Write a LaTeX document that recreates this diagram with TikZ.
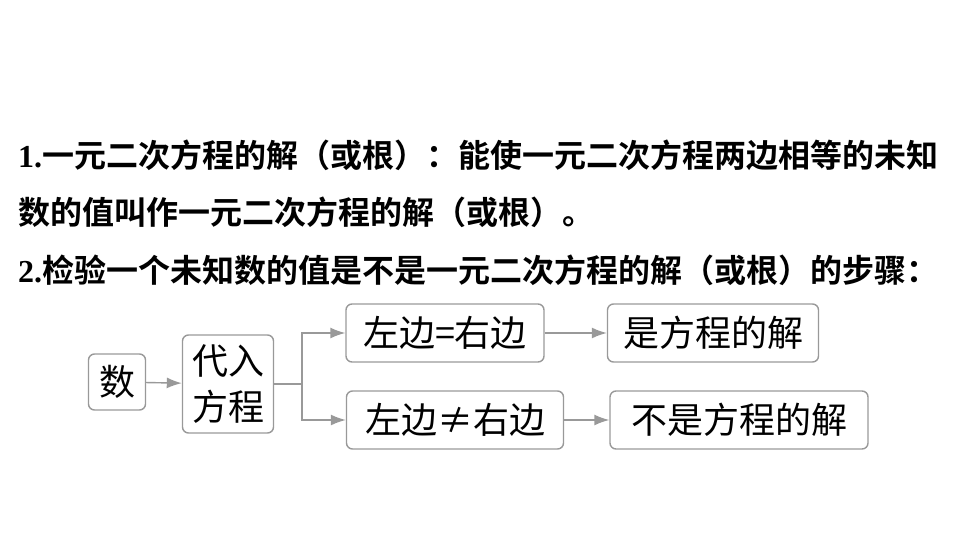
\documentclass[tikz,border=0pt]{standalone}
\usepackage{fontspec}
\setmainfont{Liberation Serif}
\newfontfamily\cjk{Noto Sans CJK SC}[BoldFont={Noto Sans CJK SC Bold}]
\usetikzlibrary{positioning, arrows.meta}
\tikzset
{%
box/.style={draw=gray!80, line width=1.4pt, rounded corners=6pt, inner sep=0pt, align=center, font=\cjk\fontsize{36}{40}\selectfont},
line/.style={draw=gray!80, line width=1.4pt},
arr/.style={line, -{Latex[length=15pt,width=11pt]}},
head/.style={anchor=west, inner sep=0pt, font=\bfseries\fontsize{32}{34}\selectfont}
}
\begin{document}
\begin{tikzpicture}[x=1pt,y=-1pt]
	\useasboundingbox (0,0) rectangle (960,540);
	\node[head] (t1) at (18,155) {1.{\cjk 一元二次方程的解（或根）：能使一元二次方程两边相等的未知}};
	\node[head] (t2) at (18,212) {\cjk 数的值叫作一元二次方程的解（或根）。};
	\node[head] (t3) at (18,270) {2.{\cjk 检验一个未知数的值是不是一元二次方程的解（或根）的步骤：}};

	\node[box, minimum width=57pt, minimum height=56pt] (shu) at (117,382) {数};
	\node[box, minimum width=91pt, minimum height=98pt, font=\cjk\fontsize{36}{46}\selectfont] (dai) at (228,384) {代入\\方程};
	\node[box, minimum width=198pt, minimum height=58pt] (eq) at (445,333) {左边=右边};
	\node[box, minimum width=211pt, minimum height=58pt] (yes) at (713,333) {是方程的解};
	\node[box, minimum width=217pt, minimum height=58pt] (neq) at (455,420) {左边≠右边};
	\node[box, minimum width=258pt, minimum height=58pt] (no) at (739,420) {不是方程的解};
	\coordinate (fork) at (302,384);

	\draw[arr] (shu) -- (dai);
	\draw[line] (dai.east) -- (fork);
	\draw[arr] (fork) |- (eq.west);
	\draw[arr] (fork) |- (neq.west);
	\draw[arr] (eq) -- (yes);
	\draw[arr] (neq) -- (no);
\end{tikzpicture}
\end{document}
